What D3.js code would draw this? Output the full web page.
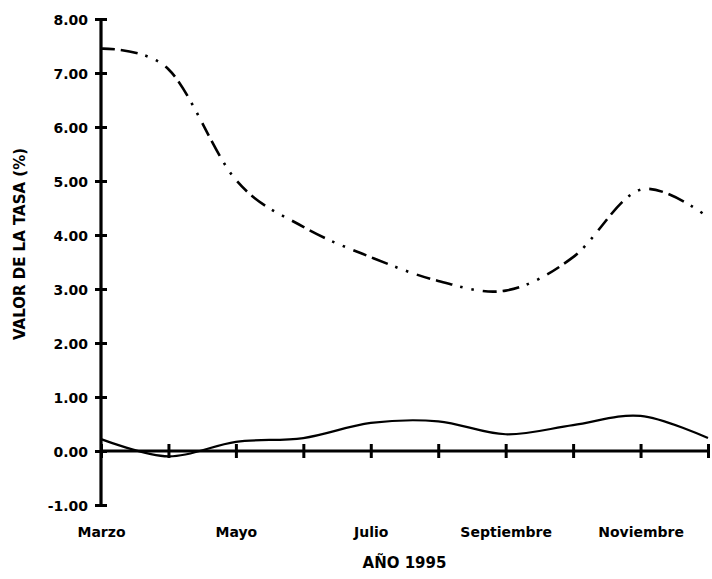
<!DOCTYPE html>
<html>
<head>
<meta charset="utf-8">
<script src="https://cdn.jsdelivr.net/npm/d3@7"></script>
<style>
  html, body { margin: 0; padding: 0; background: #fff; }
  text { font-family: "DejaVu Sans", sans-serif; font-weight: bold; fill: #000; }
</style>
</head>
<body>
<svg id="chart" width="712" height="579"></svg>
<script>
const months = ["Marzo", "Abril", "Mayo", "Junio", "Julio", "Agosto", "Septiembre", "Octubre", "Noviembre", "Diciembre"];
const labelMonths = ["Marzo", "Mayo", "Julio", "Septiembre", "Noviembre"];
const serieA = [7.45, 7.07, 5.02, 4.15, 3.59, 3.15, 2.97, 3.59, 4.84, 4.33];
const serieB = [0.22, -0.10, 0.17, 0.24, 0.52, 0.55, 0.31, 0.48, 0.65, 0.24];
const yTicks = [-1, 0, 1, 2, 3, 4, 5, 6, 7, 8];
const yTitle = "VALOR DE LA TASA (%)";
const xTitle = "AÑO 1995";

(function () {
const svg = d3.select("#chart");
const mLeft = 101, mRight = 708, mTop = 19, mBottom = 505;

const x = d3.scalePoint().domain(months).range([mLeft, mRight]);
const y = d3.scaleLinear().domain([-1, 8]).range([mBottom, mTop]);

// lines
const line = d3.line()
  .x((d, i) => x(months[i]))
  .y(d => y(d))
  .curve(d3.curveCatmullRom.alpha(0));

svg.append("path").datum(serieA)
  .attr("d", line)
  .attr("fill", "none")
  .attr("stroke", "#000")
  .attr("stroke-width", 2.6)
  .attr("stroke-dasharray", "14,6,17,8,2.5,9,2.5,9");

svg.append("path").datum(serieB)
  .attr("d", line)
  .attr("fill", "none")
  .attr("stroke", "#000")
  .attr("stroke-width", 2.2);

// Y axis
const fmt = d => d.toFixed(2);
const yAxis = d3.axisLeft(y).tickValues(yTicks).tickFormat(fmt).tickSize(6).tickPadding(0);
const gy = svg.append("g").attr("transform", `translate(${mLeft},0)`).call(yAxis);
gy.select(".domain").remove();
gy.append("line").attr("x1", 0).attr("x2", 0).attr("y1", y(8)).attr("y2", y(-1))
  .attr("stroke", "#000").attr("stroke-width", 3.2);
gy.selectAll(".tick line").attr("x1", -6).attr("x2", 6).attr("stroke", "#000").attr("stroke-width", 3);
gy.selectAll(".tick text").attr("x", -13).attr("dy", "0.36em")
  .style("font-size", "14px").style("font-family", "DejaVu Sans").style("font-weight", "bold")
  .attr("fill", "#000");

// X axis
const xAxis = d3.axisBottom(x).tickSize(7).tickFormat(d => labelMonths.includes(d) ? d : "");
const gx = svg.append("g").attr("transform", `translate(0,${y(0)})`).call(xAxis);
gx.select(".domain").remove();
gx.append("line").attr("x1", mLeft).attr("x2", mRight).attr("y1", 0).attr("y2", 0)
  .attr("stroke", "#000").attr("stroke-width", 3.2);
gx.selectAll(".tick line").attr("y1", -7).attr("y2", 7).attr("stroke", "#000").attr("stroke-width", 3);
gx.selectAll(".tick text").attr("y", 86).attr("dy", 0)
  .style("font-size", "14px").style("font-family", "DejaVu Sans").style("font-weight", "bold")
  .attr("fill", "#000");

// titles
svg.append("text")
  .attr("x", (mLeft + mRight) / 2).attr("y", 568)
  .attr("text-anchor", "middle")
  .style("font-size", "15px")
  .text(xTitle);

svg.append("text")
  .attr("transform", "translate(25,244) rotate(-90)")
  .attr("text-anchor", "middle")
  .style("font-size", "15px")
  .text(yTitle);
})();
</script>
</body>
</html>
